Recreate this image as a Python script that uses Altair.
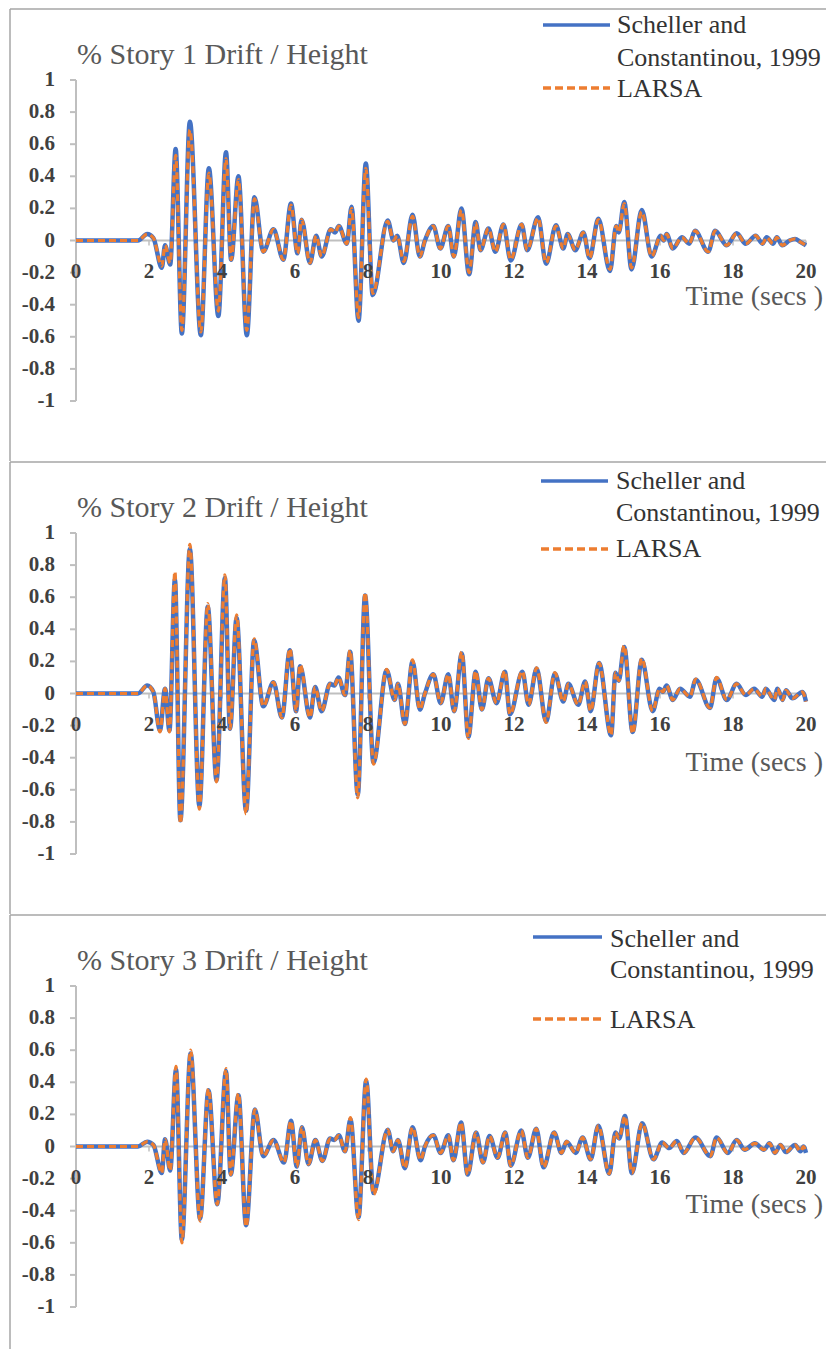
import altair as alt
import pandas as pd

# ---------------- data ----------------
T1 = [0, 1.70, 1.95, 2.12, 2.35, 2.44, 2.58, 2.73, 2.90, 3.12, 3.42, 3.64, 3.90, 4.11, 4.25, 4.45,
      4.68, 4.89, 5.13, 5.41, 5.68, 5.89, 6.07, 6.18, 6.41, 6.58, 6.73, 6.98, 7.10, 7.20, 7.42, 7.55,
      7.74, 7.94, 8.13, 8.54, 8.70, 8.80, 8.98, 9.22, 9.42, 9.56, 9.79, 9.98, 10.20, 10.35, 10.56,
      10.77, 10.95, 11.08, 11.30, 11.49, 11.71, 11.91, 12.21, 12.36, 12.66, 12.88, 13.15, 13.35,
      13.47, 13.68, 13.90, 14.07, 14.31, 14.63, 14.80, 14.87, 15.02, 15.22, 15.50, 15.77, 16.02,
      16.10, 16.18, 16.35, 16.60, 16.80, 16.96, 17.32, 17.51, 17.83, 18.10, 18.35, 18.62, 18.81,
      18.92, 19.10, 19.20, 19.35, 19.55, 19.70, 19.85, 20.0]
S1 = [0, 0, 0.04, 0.015, -0.17, -0.03, -0.15, 0.57, -0.58, 0.74, -0.59, 0.45, -0.47, 0.55, -0.12, 0.40,
      -0.59, 0.27, -0.07, 0.07, -0.12, 0.23, -0.08, 0.13, -0.14, 0.03, -0.10, 0.07, 0.05, 0.09, -0.02, 0.21,
      -0.50, 0.48, -0.34, 0.125, 0.0, 0.03, -0.14, 0.16, -0.10, 0.0, 0.09, -0.05, 0.09, -0.10, 0.20,
      -0.21, 0.115, -0.06, 0.075, -0.07, 0.10, -0.125, 0.10, -0.06, 0.145, -0.145, 0.095, -0.05,
      0.04, -0.06, 0.05, -0.11, 0.135, -0.19, 0.09, 0.05, 0.24, -0.18, 0.19, -0.10, 0.03,
      0.0, 0.04, -0.05, 0.02, -0.02, 0.06, -0.07, 0.06, -0.03, 0.045, -0.02, 0.03, -0.02,
      0.02, -0.02, 0.02, -0.03, 0.0, 0.01, -0.01, -0.03]
L1 = [0, 0, 0.04, 0.015, -0.16, -0.03, -0.14, 0.53, -0.56, 0.69, -0.57, 0.42, -0.44, 0.51, -0.12, 0.38,
      -0.56, 0.26, -0.07, 0.07, -0.12, 0.22, -0.08, 0.13, -0.14, 0.03, -0.10, 0.07, 0.05, 0.09, -0.02, 0.20,
      -0.48, 0.45, -0.33, 0.12, 0.0, 0.03, -0.13, 0.15, -0.10, 0.0, 0.09, -0.05, 0.09, -0.10, 0.19,
      -0.20, 0.11, -0.06, 0.075, -0.07, 0.10, -0.12, 0.10, -0.06, 0.14, -0.14, 0.09, -0.05,
      0.04, -0.06, 0.05, -0.11, 0.13, -0.18, 0.09, 0.05, 0.23, -0.17, 0.18, -0.10, 0.03,
      0.0, 0.04, -0.05, 0.02, -0.02, 0.06, -0.07, 0.06, -0.03, 0.045, -0.02, 0.03, -0.02,
      0.02, -0.02, 0.02, -0.03, 0.0, 0.01, -0.01, -0.03]

T2 = [0, 1.70, 1.95, 2.12, 2.30, 2.44, 2.56, 2.71, 2.86, 3.12, 3.38, 3.61, 3.85, 4.08, 4.22, 4.40,
      4.66, 4.88, 5.13, 5.41, 5.64, 5.86, 6.03, 6.14, 6.41, 6.55, 6.73, 6.96, 7.08, 7.19, 7.37, 7.51,
      7.72, 7.92, 8.15, 8.51, 8.73, 8.82, 9.01, 9.22, 9.42, 9.56, 9.79, 9.99, 10.20, 10.36, 10.57,
      10.75, 10.95, 11.12, 11.30, 11.52, 11.75, 11.89, 12.23, 12.40, 12.62, 12.88, 13.12, 13.35,
      13.49, 13.76, 13.95, 14.10, 14.33, 14.66, 14.78, 14.87, 15.02, 15.25, 15.50, 15.80, 15.99,
      16.08, 16.18, 16.35, 16.55, 16.82, 16.98, 17.37, 17.55, 17.83, 18.10, 18.35, 18.58, 18.80,
      18.90, 19.13, 19.22, 19.36, 19.45, 19.63, 19.90, 20.0]
S2 = [0, 0, 0.05, 0.01, -0.23, 0.03, -0.23, 0.71, -0.79, 0.90, -0.70, 0.54, -0.54, 0.72, -0.22, 0.47,
      -0.73, 0.33, -0.08, 0.07, -0.15, 0.27, -0.11, 0.17, -0.15, 0.04, -0.11, 0.06, 0.05, 0.10, -0.01, 0.26,
      -0.63, 0.61, -0.43, 0.145, -0.04, 0.06, -0.19, 0.20, -0.10, 0.0, 0.12, -0.06, 0.12, -0.11, 0.25,
      -0.27, 0.135, -0.10, 0.095, -0.06, 0.135, -0.13, 0.135, -0.07, 0.155, -0.175, 0.125, -0.05,
      0.06, -0.07, 0.075, -0.11, 0.19, -0.26, 0.13, 0.08, 0.29, -0.24, 0.21, -0.11, 0.03,
      0.01, 0.05, -0.04, 0.03, -0.02, 0.085, -0.09, 0.095, -0.04, 0.06, -0.01, 0.03, -0.02,
      0.03, -0.04, 0.03, -0.04, 0.02, -0.03, 0.01, -0.05]
L2 = [0, 0, 0.05, 0.01, -0.24, 0.03, -0.24, 0.76, -0.81, 0.93, -0.72, 0.56, -0.55, 0.74, -0.22, 0.49,
      -0.75, 0.34, -0.08, 0.07, -0.15, 0.28, -0.11, 0.18, -0.15, 0.04, -0.11, 0.06, 0.05, 0.10, -0.01, 0.27,
      -0.65, 0.63, -0.44, 0.15, -0.04, 0.06, -0.19, 0.21, -0.10, 0.0, 0.12, -0.06, 0.12, -0.11, 0.26,
      -0.28, 0.14, -0.10, 0.095, -0.06, 0.14, -0.13, 0.14, -0.07, 0.16, -0.18, 0.13, -0.05,
      0.06, -0.07, 0.075, -0.11, 0.19, -0.26, 0.13, 0.08, 0.30, -0.25, 0.22, -0.11, 0.03,
      0.01, 0.05, -0.04, 0.03, -0.02, 0.09, -0.09, 0.10, -0.04, 0.06, -0.01, 0.03, -0.02,
      0.03, -0.04, 0.03, -0.04, 0.02, -0.03, 0.01, -0.05]

T3 = [0, 1.70, 1.95, 2.12, 2.35, 2.44, 2.58, 2.74, 2.90, 3.14, 3.40, 3.63, 3.87, 4.11, 4.24, 4.45,
      4.66, 4.90, 5.13, 5.41, 5.70, 5.89, 6.05, 6.19, 6.37, 6.56, 6.75, 6.96, 7.08, 7.20, 7.37, 7.52,
      7.74, 7.95, 8.15, 8.54, 8.69, 8.82, 9.01, 9.22, 9.44, 9.56, 9.79, 9.99, 10.20, 10.34, 10.55,
      10.73, 10.96, 11.15, 11.33, 11.55, 11.76, 11.91, 12.20, 12.38, 12.61, 12.81, 13.10, 13.30,
      13.44, 13.69, 13.88, 14.10, 14.31, 14.61, 14.78, 14.88, 15.04, 15.23, 15.51, 15.82, 16.06,
      16.25, 16.46, 16.65, 16.97, 17.38, 17.55, 17.86, 18.10, 18.32, 18.60, 18.85, 19.00, 19.15,
      19.30, 19.45, 19.70, 19.85, 19.93, 20.0]
S3 = [0, 0, 0.03, 0.01, -0.165, 0.045, -0.15, 0.48, -0.58, 0.58, -0.45, 0.35, -0.36, 0.47, -0.175, 0.32,
      -0.49, 0.23, -0.06, 0.04, -0.10, 0.16, -0.125, 0.12, -0.11, 0.04, -0.09, 0.05, 0.04, 0.07, -0.03, 0.17,
      -0.44, 0.41, -0.29, 0.105, -0.03, 0.04, -0.135, 0.12, -0.085, 0.0, 0.07, -0.04, 0.07, -0.085, 0.15,
      -0.175, 0.087, -0.10, 0.066, -0.07, 0.087, -0.12, 0.10, -0.07, 0.11, -0.13, 0.087, -0.04,
      0.03, -0.04, 0.056, -0.08, 0.13, -0.17, 0.087, 0.05, 0.19, -0.166, 0.145, -0.08, 0.025,
      -0.01, 0.035, -0.04, 0.056, -0.06, 0.056, -0.04, 0.04, -0.02, 0.02, -0.02, 0.02, -0.04,
      0.01, -0.035, 0.01, -0.03, 0.0, -0.04]
L3 = [0, 0, 0.03, 0.01, -0.165, 0.045, -0.15, 0.50, -0.60, 0.60, -0.465, 0.36, -0.36, 0.485, -0.175, 0.33,
      -0.50, 0.23, -0.06, 0.04, -0.10, 0.16, -0.125, 0.12, -0.11, 0.04, -0.09, 0.05, 0.04, 0.07, -0.03, 0.18,
      -0.455, 0.42, -0.30, 0.105, -0.03, 0.04, -0.135, 0.12, -0.085, 0.0, 0.07, -0.04, 0.07, -0.085, 0.15,
      -0.175, 0.087, -0.10, 0.066, -0.07, 0.087, -0.12, 0.10, -0.07, 0.11, -0.13, 0.087, -0.04,
      0.03, -0.04, 0.056, -0.08, 0.13, -0.17, 0.087, 0.05, 0.19, -0.166, 0.145, -0.08, 0.025,
      -0.01, 0.035, -0.04, 0.056, -0.06, 0.056, -0.04, 0.04, -0.02, 0.02, -0.02, 0.02, -0.04,
      0.01, -0.035, 0.01, -0.03, 0.0, -0.04]

TITLES = ["% Story 1 Drift / Height", "% Story 2 Drift / Height", "% Story 3 Drift / Height"]
SERIES = ["Scheller and", "Constantinou, 1999", "LARSA"]
XLABEL = "Time (secs )"
XTICKS = [0, 2, 4, 6, 8, 10, 12, 14, 16, 18, 20]
XTICK_LABELS = ["0", "2", "4", "6", "8", "10", "12", "14", "16", "18", "20"]
YTICKS = [-1, -0.8, -0.6, -0.4, -0.2, 0, 0.2, 0.4, 0.6, 0.8, 1]
YTICK_LABELS = ["-1", "-0.8", "-0.6", "-0.4", "-0.2", "0", "0.2", "0.4", "0.6", "0.8", "1"]

# ---------------- styling / layout ----------------
BLUE = "#4472C4"
ORANGE = "#ED7D31"
AXIS = "#BFBFBF"
BORDER = "#A6A6A6"
SERIF = "Liberation Serif, Times New Roman, serif"

W = 818
HEIGHTS = [453, 453, 435]
X0 = 68.0      # pixel of t = 0 inside a panel
PXS = 36.5     # pixels per second
Y0 = 232.5     # pixel of value 0 inside a panel
PXU = 160.5    # pixels per unit

# per-panel legend / label placement (pixels inside panel)
LEG = [
    dict(lx1=535, lx2=602, tx=609, bl=17, s1=25, s2=58, ol=80, s3=89, tl=297),
    dict(lx1=533, lx2=600, tx=608, bl=20, s1=28, s2=60, ol=88, s3=96, tl=310),
    dict(lx1=525, lx2=594, tx=602, bl=23, s1=33, s2=64, ol=105, s3=114, tl=299),
]

one = pd.DataFrame({"k": [0]})


def txt(s, x, y, size, color, align="left", weight="normal"):
    return alt.Chart(pd.DataFrame({"s": [s]})).mark_text(
        font=SERIF, fontSize=size, color=color, align=align, baseline="alphabetic",
        fontWeight=weight).encode(x=alt.value(x), y=alt.value(y), text="s:N")


def panel(i, T, S, L):
    H = HEIGHTS[i]
    lg = LEG[i]
    xs = alt.Scale(domain=[-X0 / PXS, (W - X0) / PXS], nice=False, zero=False)
    ys = alt.Scale(domain=[-(H - Y0) / PXU, Y0 / PXU], nice=False, zero=False)
    X = lambda f: alt.X(f, type="quantitative", scale=xs, axis=None)
    Y = lambda f: alt.Y(f, type="quantitative", scale=ys, axis=None)

    top = alt.Chart(one).mark_rule(color=BORDER, strokeWidth=1.5).encode(
        x=alt.value(2), x2=alt.value(W), y=alt.value(1))
    left = alt.Chart(one).mark_rule(color=BORDER, strokeWidth=1.5).encode(
        x=alt.value(2), y=alt.value(1), y2=alt.value(H))

    xax_df = pd.DataFrame({"t0": [XTICKS[0]], "t1": [XTICKS[-1]], "v": [0]})
    xaxis = alt.Chart(xax_df).mark_rule(color=AXIS, strokeWidth=2).encode(
        x=X("t0"), x2="t1", y=Y("v"))
    xt_df = pd.DataFrame({"t": XTICKS, "v": [0] * len(XTICKS), "lab": XTICK_LABELS})
    xticks = alt.Chart(xt_df).mark_rule(color=AXIS, strokeWidth=1.5, y2Offset=5).encode(
        x=X("t"), y=Y("v"), y2="v")
    xlabels = alt.Chart(xt_df).mark_text(
        font=SERIF, fontSize=21, fontWeight="bold", color="#404040",
        baseline="middle", dy=31).encode(x=X("t"), y=Y("v"), text="lab:N")

    yax_df = pd.DataFrame({"t": [0], "v0": [YTICKS[0]], "v1": [YTICKS[-1]]})
    yaxis = alt.Chart(yax_df).mark_rule(color=AXIS, strokeWidth=2).encode(
        x=X("t"), y=Y("v0"), y2="v1")
    yt_df = pd.DataFrame({"t": [0] * len(YTICKS), "v": YTICKS, "lab": YTICK_LABELS})
    yticks = alt.Chart(yt_df).mark_rule(color=AXIS, strokeWidth=2, x2Offset=-6).encode(
        x=X("t"), x2="t", y=Y("v"))
    ylabels = alt.Chart(yt_df).mark_text(
        font=SERIF, fontSize=21, fontWeight="bold", color="#404040",
        align="right", baseline="middle", dx=-21).encode(x=X("t"), y=Y("v"), text="lab:N")

    blue = alt.Chart(pd.DataFrame({"t": T, "v": S})).mark_line(
        color=BLUE, strokeWidth=4.5, interpolate="monotone").encode(x=X("t"), y=Y("v"))
    orange = alt.Chart(pd.DataFrame({"t": T, "v": L})).mark_line(
        color=ORANGE, strokeWidth=3.2, strokeDash=[7, 4], interpolate="monotone").encode(
        x=X("t"), y=Y("v"))

    title = txt(TITLES[i], 69, 56, 30, "#595959")
    leg_b = alt.Chart(one).mark_rule(color=BLUE, strokeWidth=3.5).encode(
        x=alt.value(lg["lx1"]), x2=alt.value(lg["lx2"]), y=alt.value(lg["bl"]))
    leg_o = alt.Chart(one).mark_rule(color=ORANGE, strokeWidth=3.5, strokeDash=[8, 4]).encode(
        x=alt.value(lg["lx1"]), x2=alt.value(lg["lx2"]), y=alt.value(lg["ol"]))
    t1 = txt(SERIES[0], lg["tx"], lg["s1"], 26, "#333333")
    t2 = txt(SERIES[1], lg["tx"], lg["s2"], 26, "#333333")
    t3 = txt(SERIES[2], lg["tx"], lg["s3"], 26, "#333333")
    tl = txt(XLABEL, 815, lg["tl"], 28, "#595959", align="right")

    return alt.layer(top, left, xaxis, xticks, yaxis, yticks, blue, orange,
                     xlabels, ylabels, title, leg_b, leg_o, t1, t2, t3, tl).properties(
        width=W, height=H)


chart = alt.vconcat(
    panel(0, T1, S1, L1), panel(1, T2, S2, L2), panel(2, T3, S3, L3), spacing=0,
    bounds="flush"
).properties(padding=0).configure_view(stroke=None).configure_concat(spacing=0)

chart.save("out.html", embed_options={"renderer": "svg", "actions": False})
